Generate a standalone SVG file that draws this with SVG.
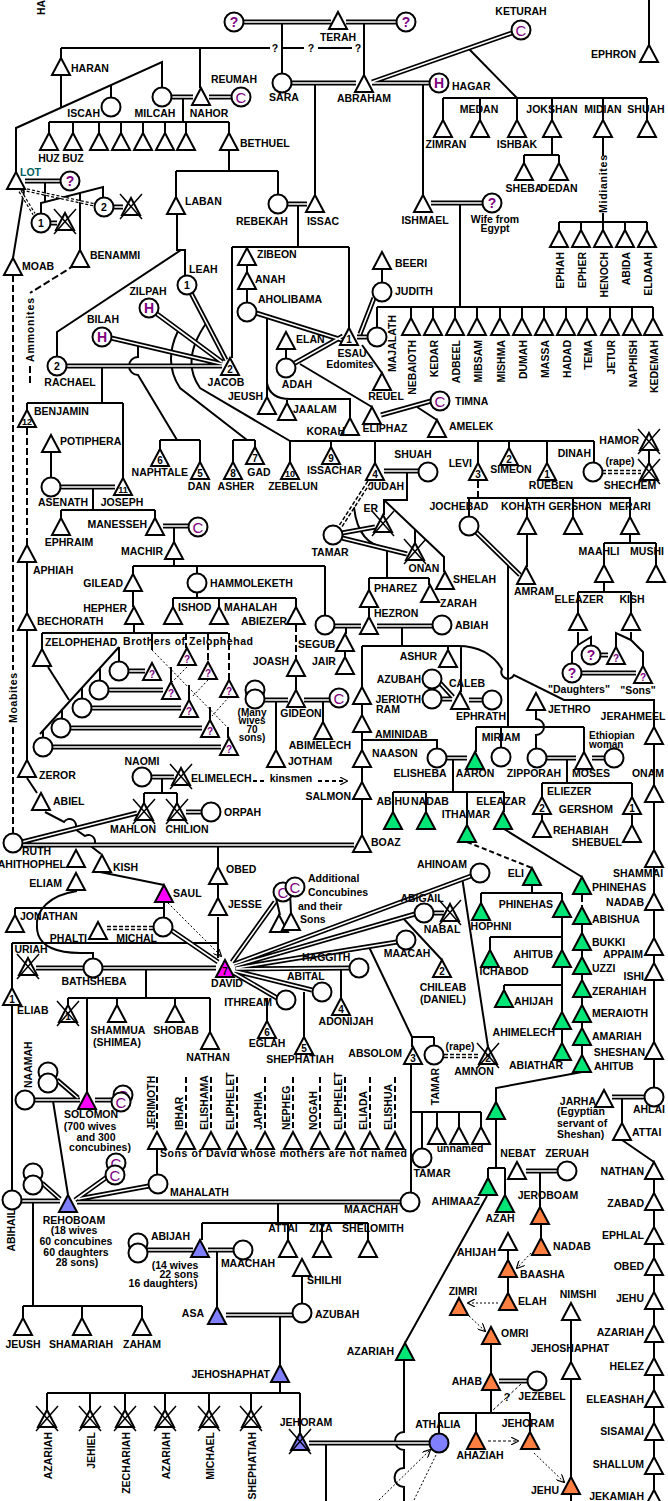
<svg xmlns="http://www.w3.org/2000/svg" width="668" height="1501" viewBox="0 0 668 1501">
<style>
text{font-family:"Liberation Sans",Arial,Helvetica,sans-serif;font-weight:bold;font-size:10.5px;fill:#000}
.m{text-anchor:middle}.e{text-anchor:end}
.n{font-size:10px;text-anchor:middle}
.s{font-size:10px}
.pc{fill:#800080;text-anchor:middle;font-size:15px;font-weight:normal}
.pq{fill:#800080;text-anchor:middle;font-size:14px}
.pt{fill:#800080;text-anchor:middle;font-size:10px}
.lot{fill:#006060}
.t{fill:#fff;stroke:#000;stroke-width:2}
.g{fill:#00e676}.mg{fill:#ff00ff}.b{fill:#8080ff}.o{fill:#ff7f40}
circle{fill:#fff;stroke:#000;stroke-width:2}
circle.b{fill:#8080ff}
.x{stroke:#000;stroke-width:1.5;fill:none}
.ln{fill:none;stroke:#000;stroke-width:2}
.ds{fill:none;stroke:#000;stroke-width:2;stroke-dasharray:7 3}
.dt{fill:none;stroke:#000;stroke-width:1;stroke-dasharray:2 2}
</style>
<defs>
<path id="t" d="M0,0L9,17L-9,17Z"/>
<marker id="ah" viewBox="0 0 10 10" refX="9" refY="5" markerWidth="8" markerHeight="8" orient="auto" markerUnits="userSpaceOnUse"><path d="M0,0L10,5L0,10" fill="none" stroke="#000" stroke-width="1.5"/></marker>
<g id="dbl">
<path d="M243,22H331M346,22H397M291,83H356M372,83H430M372,82L512,33M171,97H193M209,97H232M287,204H307M431,203H483M25,181H61M50,223H57M113,207H123"/>
<path d="M360,334L374,298M357,337H368M256,313L342,340M295,363L343,336M191,293L226,360M157,314L222,362M111,338L222,364M66,366H222M381,415L431,401M384,471H419"/>
<path d="M342,533L375,527M342,538L407,554M476,532L520,575M60,487H115M163,526H189M334,626H361M377,626H433M263,700H288M304,700H330"/>
<path d="M128,671H145M108,690H163M91,708H181M70,728H202M52,747H221M600,655H608M581,673H636M440,683L453,697M441,699H452M469,700H483"/>
<path d="M446,758H467M546,758H576M592,758H605M151,777H174M186,812H202M22,842L137,813M22,845H354M36,968H84M102,968H216M171,930L218,962"/>
<path d="M232,962L275,902M234,964L471,876M235,966L415,914M236,968L397,942M236,969L350,968M235,971L312,990M234,973L277,998M433,913H444"/>
<path d="M34,1100H80M57,1080L78,1098M95,1100H115M21,1201H60M42,1183L60,1199M75,1200L107,1177M78,1199L149,1186M77,1202H401"/>
<path d="M147,1250H193M208,1250H234M226,1315H293M309,1443H430M526,1171H558M612,1097H645M499,1381H528"/>
</g>
<g id="ddb">
<path d="M602,472H641M369,482L340,527M444,1056H480M107,928H153"/>
</g>
<g id="lotd">
<path d="M22,189L95,205M20,191L34,214"/>
</g>
</defs>
<rect width="668" height="1501" fill="#fff"/>

<g id="connectors">
<g class="ln">
<path d="M61,48H270M282,48H304M318,48H352M61,48V58M200,48V88M282,23V74M364,23V75M61,76V108M16,172V128L162,62V88M111,85V98"/>
<path d="M183,98V122M49,122H229M49,122V133M73,122V133M99,122V133M121,122V133M143,122V133M165,122V133M186,122V133M229,122V133"/>
<path d="M229,150V171M176,171H278M176,171V197M278,171V195M315,84V195M298,205V247M232,247H349M232,247V358M349,247V328M423,84V195"/>
<path d="M177,214V250H185V276M181,250L57,332V356"/>
<path d="M469,49L517,98M443,98H647M443,98V120M480,98V120M517,98V120M552,98V120M603,98V120M647,98V120M552,137V155M524,155H559M524,155V163M559,155V163"/>
<path d="M603,137V156M603,213V222M559,222H647M559,222V230M581,222V230M603,222V230M625,222V230M647,222V230M649,0V45"/>
<path d="M460,204V307M377,307H653M377,307V328M411,307V318M433,307V318M455,307V318M477,307V318M500,307V318M522,307V318M544,307V318M566,307V318M587,307V318M610,307V318M632,307V318M653,307V318"/>
<path d="M382,268V283M362,345L382,373M300,364L372,407M286,348V358M247,265V272M247,289V302M267,316V397M267,383Q270,399 290,399H350V418M287,399V403M417,407L437,420"/>
<path d="M290,441H594M290,441V462M331,441V447M375,441V463M478,441V463M509,441V448M547,441V463M594,441V462M649,451V463"/>
<path d="M207,322Q180,360 200,388L290,441M178,331Q163,362 180,388L247,440M233,440H255M233,440V462M255,440V447M138,344V357A9,9 0 0 0 138,375L177,440M160,440H200M160,440V449M200,440V462"/>
<path d="M102,366V403M27,403H123M27,403V410M123,403V478M51,452V478M93,487V510M61,510H155M61,510V518M155,510V518"/>
<path d="M174,526V542M174,560V566M133,566H325M133,566V574M197,566V574M325,566V616M133,592V607M197,592V598M173,598H296M173,598V607M219,598V607M296,598V607M296,677V690"/>
<path d="M134,624V633M42,633H228M42,633V649M152,633V650M48,667L69,700M119,647L40,734M119,647V662M100,668V681M82,688V699M62,710V719M43,731V738M171,667V682M189,685V700M210,707V720M228,727V738"/>
<path d="M276,700V750M323,700V722M346,627V634M345,652V657M369,608V617M354,507Q358,545 387,548V578M369,578H429M369,578V590M429,578V585"/>
<path d="M407,471V500H384V515M384,500L444,557V572M415,529V543M467,498H631M469,498V517M527,498V517M573,498V517M630,498V517M527,535V567"/>
<path d="M508,564V727M476,727H584M476,727V752M501,727V748M584,727V752M630,535V543M604,543H656M604,543V565M656,543V565M604,583V592M578,592H631M578,592V613M631,592V613"/>
<path d="M578,632V645L572,652V663M578,645L591,637V645M631,632V640L643,652V667M631,640L616,633V647"/>
<path d="M402,627V646M362,646H458Q488,646 502,669A6,6 0 0 0 514,675L564,700H654V727M362,646V687M448,646V650M461,646V692"/>
<path d="M362,705V715M362,733V750M362,740H437V748M362,765V782M362,800V835M453,758V792M393,792H504M393,792V812M426,792V812M467,792V825M504,792V812"/>
<path d="M567,758V783M542,783H632M542,783V797M632,783V797M542,813V820M632,813V825M536,711V719A8,8 0 0 1 536,735V749"/>
<path d="M654,745V1088M654,1180V1501M622,1097V1123M622,1140L654,1162"/>
<path d="M504,829L582,877M582,925V1055M582,1072L496,1088V1102M496,1118V1168M488,1168H505M488,1168V1178M505,1168V1195M487,1196L405,1343M404,1360V1432A9,9 0 0 0 404,1450V1468A9,9 0 0 0 404,1487V1501"/>
<path d="M532,886V893M481,893H562M481,893V903M562,893V900M562,917V1012M490,937H562M490,937V950M504,985H562M504,985V990M562,1030V1043"/>
<path d="M540,1171V1207M541,1225V1238M508,1251V1260M508,1277V1293M491,1344V1373M491,1390V1413M439,1413H530M439,1413V1433M476,1413V1432M530,1413V1432M571,1320V1362M571,1378V1477M571,1493V1501M326,1443V1501"/>
<path d="M278,1201V1223M202,1223H368M202,1223V1240M288,1223V1240M322,1223V1240M368,1223V1240M302,1276V1304M217,1250V1307M280,1316V1365M280,1382V1393M47,1393H300M47,1393V1410M90,1393V1410M125,1393V1410M165,1393V1410M209,1393V1410M251,1393V1410M300,1393V1433"/>
<path d="M33,1201V1306M23,1306H142M23,1306V1318M82,1306V1318M142,1306V1318M53,1101L68,1195M157,1148V1175"/>
<path d="M411,1063V1192M411,1112H481M422,1112V1149M437,1112V1127M459,1112V1127M481,1112V1127M412,1037H434M412,1037V1047M434,1037V1046M369,947L412,1037"/>
<path d="M462,877L488,1047M402,917L442,960M341,968V998M304,992V1037M267,998V1021M276,898L280,915M290,893L291,913"/>
<path d="M164,902V918M15,908H164M15,908V915M100,872L164,885M45,812L64,822A5,5 0 0 1 75,829L85,836A5,5 0 0 1 92,847L101,854M27,778L37,793M27,563V613M27,630V760"/>
<path d="M45,181V203M41,213V203L103,187V197M80,193V250M24,191L13,258M162,777V793M144,793H177M144,793V803M177,793V803"/>
<path d="M218,845V867M218,885V898M218,917V958M12,943H218M12,943V988M12,1006V1190M146,968V998M68,998H210M68,998V1005M87,998V1092M117,998V1005M175,998V1005M210,998V1032"/>
<path d="M77,891C50,895 35,910 37,928C38,948 60,953 80,953H93V959"/>
</g>
<g class="ds">
<path d="M296,625V659M27,428V545M13,275V670M13,727V833M75,265L30,293M30,366V383M478,481V498M186,633V648M208,633V662M229,633V680M582,895V907"/>
<path d="M467,842L532,868" stroke-dasharray="5 3"/>
<path d="M253,781H265M318,781H347" stroke-dasharray="4 3" marker-end="url(#ah)"/>
<path d="M157,1077V1130M186,1077V1130M211,1077V1130M237,1077V1130M265,1077V1130M293,1077V1130M320,1077V1130M345,1077V1130M370,1077V1130M395,1077V1130" stroke-dasharray="6 3"/>
<path d="M488,1441H518" stroke-width="1" stroke-dasharray="3 2" marker-end="url(#ah)"/>
<path d="M521,1384L492,1411" stroke-width="1" stroke-dasharray="3 2"/>
</g>
<g class="dt">
<path d="M152,650L230,730M187,667L171,683M208,680L192,697M229,697L212,716"/>
<path d="M168,903L221,956" marker-end="url(#ah)"/>
<path d="M498,1303L468,1303" marker-end="url(#ah)"/>
<path d="M531,1253L517,1268" marker-end="url(#ah)"/>
<path d="M469,1316L485,1331" marker-end="url(#ah)"/>
<path d="M534,1453L564,1482" marker-end="url(#ah)"/>
<path d="M379,1500L430,1450" marker-end="url(#ah)"/>
<path d="M414,1500L437,1453"/>
</g>
<use href="#dbl" fill="none" stroke="#000" stroke-width="5"/>
<use href="#dbl" fill="none" stroke="#fff" stroke-width="1.6"/>
<use href="#ddb" fill="none" stroke="#000" stroke-width="4.5" stroke-dasharray="4 2"/>
<use href="#ddb" fill="none" stroke="#fff" stroke-width="1.5"/>
<use href="#lotd" fill="none" stroke="#000" stroke-width="3.5" stroke-dasharray="3 2"/>
<use href="#lotd" fill="none" stroke="#fff" stroke-width="1.2"/>
<g id="connector-labels">
<text x="275" y="52" class="m">?</text><text x="311" y="52" class="m">?</text><text x="358" y="52" class="m">?</text>
<text transform="translate(607,184) rotate(-90)" class="m" textLength="58">Midianites</text>
<text transform="translate(17,698) rotate(-90)" class="m" textLength="50">Moabites</text>
<text transform="translate(34,330) rotate(-90)" class="m" textLength="64">Ammonites</text>
<text x="620" y="465" class="m">(rape)</text>
<text x="460" y="1050" class="m">(rape)</text>
<text x="291" y="782" class="m">kinsmen</text>
<text x="507" y="1401" class="m">?</text>
<text transform="translate(45,15) rotate(-90)">HA</text>
</g>
</g>

<g id="nodes">
<g id="terah"><use href="#t" class="t" x="338" y="12"/><text x="338" y="41" class="m">TERAH</text></g>
<g id="terah-wife-a"><circle cx="234" cy="22" r="9.5"/><text x="234" y="27" class="pq">?</text></g>
<g id="terah-wife-b"><circle cx="406" cy="22" r="9.5"/><text x="406" y="27" class="pq">?</text></g>
<g id="haran"><use href="#t" class="t" x="61" y="58"/><text x="71" y="72">HARAN</text></g>
<g id="iscah"><circle cx="111" cy="107" r="9.5"/><text x="100" y="117" class="e">ISCAH</text></g>
<g id="milcah"><circle cx="162" cy="97" r="9.5"/><text x="155" y="117" class="m">MILCAH</text></g>
<g id="nahor"><use href="#t" class="t" x="201" y="88"/><text x="209" y="117" class="m">NAHOR</text></g>
<g id="reumah"><circle cx="241" cy="97" r="9.5"/><text x="241" y="102.5" class="pc">C</text><text x="234" y="83" class="m">REUMAH</text></g>
<g id="sara"><circle cx="282" cy="83" r="9.5"/><text x="284" y="101" class="m">SARA</text></g>
<g id="abraham"><use href="#t" class="t" x="364" y="75"/><text x="364" y="102" class="m">ABRAHAM</text></g>
<g id="hagar"><circle cx="439" cy="83" r="9.5"/><text x="439" y="88" class="pq">H</text><text x="452" y="90">HAGAR</text></g>
<g id="keturah"><circle cx="521" cy="30" r="9.5"/><text x="521" y="35.5" class="pc">C</text><text x="521" y="15" class="m">KETURAH</text></g>
<g id="ephron"><use href="#t" class="t" x="649" y="45"/><text x="636" y="58" class="e">EPHRON</text></g>
<g id="huz"><use href="#t" class="t" x="49" y="133"/><text x="49" y="162" class="m">HUZ</text></g>
<g id="buz"><use href="#t" class="t" x="73" y="133"/><text x="73" y="162" class="m">BUZ</text></g>
<g id="nahor-son-3"><use href="#t" class="t" x="99" y="133"/></g>
<g id="nahor-son-4"><use href="#t" class="t" x="121" y="133"/></g>
<g id="nahor-son-5"><use href="#t" class="t" x="143" y="133"/></g>
<g id="nahor-son-6"><use href="#t" class="t" x="165" y="133"/></g>
<g id="nahor-son-7"><use href="#t" class="t" x="186" y="133"/></g>
<g id="bethuel"><use href="#t" class="t" x="229" y="133"/><text x="240" y="147">BETHUEL</text></g>
<g id="laban"><use href="#t" class="t" x="176" y="197"/><text x="185" y="205">LABAN</text></g>
<g id="rebekah"><circle cx="278" cy="204" r="9.5"/><text x="262" y="225" class="m">REBEKAH</text></g>
<g id="isaac"><use href="#t" class="t" x="315" y="195"/><text x="323" y="225" class="m">ISSAC</text></g>
<g id="ishmael"><use href="#t" class="t" x="423" y="195"/><text x="425" y="224" class="m">ISHMAEL</text></g>
<g id="ishmael-wife"><circle cx="492" cy="203" r="9.5"/><text x="492" y="208" class="pq">?</text><text x="495" y="223" class="m">Wife from</text><text x="495" y="232" class="m">Egypt</text></g>
<g id="zimran"><use href="#t" class="t" x="443" y="120"/><text x="446" y="148" class="m">ZIMRAN</text></g>
<g id="medan"><use href="#t" class="t" x="480" y="120"/><text x="479" y="113" class="m">MEDAN</text></g>
<g id="ishbak"><use href="#t" class="t" x="517" y="120"/><text x="517" y="148" class="m">ISHBAK</text></g>
<g id="jokshan"><use href="#t" class="t" x="552" y="120"/><text x="552" y="113" class="m">JOKSHAN</text></g>
<g id="midian"><use href="#t" class="t" x="603" y="120"/><text x="603" y="113" class="m">MIDIAN</text></g>
<g id="shuah-k"><use href="#t" class="t" x="647" y="120"/><text x="646" y="113" class="m">SHUAH</text></g>
<g id="sheba"><use href="#t" class="t" x="524" y="163"/><text x="524" y="192" class="m">SHEBA</text></g>
<g id="dedan"><use href="#t" class="t" x="559" y="163"/><text x="559" y="192" class="m">DEDAN</text></g>
<g id="ephah"><use href="#t" class="t" x="559" y="230"/><text transform="translate(564,252) rotate(-90)" class="e">EPHAH</text></g>
<g id="epher"><use href="#t" class="t" x="581" y="230"/><text transform="translate(586,252) rotate(-90)" class="e">EPHER</text></g>
<g id="henoch"><use href="#t" class="t" x="603" y="230"/><text transform="translate(608,252) rotate(-90)" class="e">HENOCH</text></g>
<g id="abida"><use href="#t" class="t" x="625" y="230"/><text transform="translate(630,252) rotate(-90)" class="e">ABIDA</text></g>
<g id="eldaah"><use href="#t" class="t" x="647" y="230"/><text transform="translate(652,252) rotate(-90)" class="e">ELDAAH</text></g>
<g id="lot"><use href="#t" class="t" x="16" y="172"/><text x="20" y="176" class="lot">LOT</text></g>
<g id="lot-wife"><circle cx="70" cy="181" r="9.5"/><text x="70" y="186" class="pq">?</text></g>
<g id="lot-daughter-1"><circle cx="41" cy="223" r="9.5"/><text x="41" y="227" class="m">1</text></g>
<g id="lot-daughter-1-husband"><use href="#t" class="t" x="65" y="213"/><path class="x" d="M54,209L76,234M76,209L54,234"/></g>
<g id="lot-daughter-2"><circle cx="104" cy="207" r="9.5"/><text x="104" y="211" class="m">2</text></g>
<g id="lot-daughter-2-husband"><use href="#t" class="t" x="131" y="198"/><path class="x" d="M120,194L142,219M142,194L120,219"/></g>
<g id="moab"><use href="#t" class="t" x="13" y="258"/><text x="22" y="270">MOAB</text></g>
<g id="benammi"><use href="#t" class="t" x="80" y="250"/><text x="90" y="259">BENAMMI</text></g>

<g id="zibeon"><use href="#t" class="t" x="247" y="248"/><text x="257" y="258">ZIBEON</text></g>
<g id="anah"><use href="#t" class="t" x="247" y="272"/><text x="255" y="283">ANAH</text></g>
<g id="aholibama"><circle cx="247" cy="312" r="9.5"/><text x="258" y="303">AHOLIBAMA</text></g>
<g id="leah"><circle cx="187" cy="285" r="9.5"/><text x="187" y="289" class="m">1</text><text x="189" y="273">LEAH</text></g>
<g id="zilpah"><circle cx="149" cy="308" r="9.5"/><text x="149" y="313" class="pq">H</text><text x="148" y="295" class="m">ZILPAH</text></g>
<g id="bilah"><circle cx="102" cy="337" r="9.5"/><text x="102" y="342" class="pq">H</text><text x="103" y="323" class="m">BILAH</text></g>
<g id="rachael"><circle cx="57" cy="366" r="9.5"/><text x="57" y="370" class="m">2</text><text x="70" y="386" class="m">RACHAEL</text></g>
<g id="jacob"><use href="#t" class="t" x="230" y="358"/><text x="230" y="373" class="n">2</text><text x="226" y="386" class="m">JACOB</text></g>
<g id="esau"><use href="#t" class="t" x="349" y="328"/><text x="349" y="343" class="n">1</text><text x="352" y="357" class="m">ESAU</text><text x="350" y="368" class="m">Edomites</text></g>
<g id="beeri"><use href="#t" class="t" x="382" y="252"/><text x="395" y="267">BEERI</text></g>
<g id="judith"><circle cx="382" cy="292" r="9.5"/><text x="395" y="295">JUDITH</text></g>
<g id="majalath"><circle cx="377" cy="337" r="9.5"/><text transform="translate(396,315) rotate(-90)" class="e">MAJALATH</text></g>
<g id="nebaioth"><use href="#t" class="t" x="411" y="318"/><text transform="translate(416,340) rotate(-90)" class="e">NEBAIOTH</text></g>
<g id="kedar"><use href="#t" class="t" x="433" y="318"/><text transform="translate(438,340) rotate(-90)" class="e">KEDAR</text></g>
<g id="adbeel"><use href="#t" class="t" x="455" y="318"/><text transform="translate(460,340) rotate(-90)" class="e">ADBEEL</text></g>
<g id="mibsam"><use href="#t" class="t" x="477" y="318"/><text transform="translate(482,340) rotate(-90)" class="e">MIBSAM</text></g>
<g id="mishma"><use href="#t" class="t" x="500" y="318"/><text transform="translate(505,340) rotate(-90)" class="e">MISHMA</text></g>
<g id="dumah"><use href="#t" class="t" x="522" y="318"/><text transform="translate(527,340) rotate(-90)" class="e">DUMAH</text></g>
<g id="massa"><use href="#t" class="t" x="544" y="318"/><text transform="translate(549,340) rotate(-90)" class="e">MASSA</text></g>
<g id="hadad"><use href="#t" class="t" x="566" y="318"/><text transform="translate(571,340) rotate(-90)" class="e">HADAD</text></g>
<g id="tema"><use href="#t" class="t" x="587" y="318"/><text transform="translate(592,340) rotate(-90)" class="e">TEMA</text></g>
<g id="jetur"><use href="#t" class="t" x="610" y="318"/><text transform="translate(615,340) rotate(-90)" class="e">JETUR</text></g>
<g id="naphish"><use href="#t" class="t" x="632" y="318"/><text transform="translate(637,340) rotate(-90)" class="e">NAPHISH</text></g>
<g id="kedemah"><use href="#t" class="t" x="653" y="318"/><text transform="translate(658,340) rotate(-90)" class="e">KEDEMAH</text></g>
<g id="elan"><use href="#t" class="t" x="286" y="332"/><text x="296" y="343">ELAN</text></g>
<g id="adah"><circle cx="286" cy="368" r="9.5"/><text x="297" y="388" class="m">ADAH</text></g>
<g id="jeush-e"><use href="#t" class="t" x="267" y="397"/><text x="263" y="400" class="e">JEUSH</text></g>
<g id="jaalam"><use href="#t" class="t" x="287" y="403"/><text x="293" y="413">JAALAM</text></g>
<g id="korah"><use href="#t" class="t" x="350" y="418"/><text x="345" y="435" class="e">KORAH</text></g>
<g id="reuel"><use href="#t" class="t" x="382" y="373"/><text x="386" y="400" class="m">REUEL</text></g>
<g id="eliphaz"><use href="#t" class="t" x="372" y="407"/><text x="385" y="432" class="m">ELIPHAZ</text></g>
<g id="timna"><circle cx="440" cy="401" r="9.5"/><text x="440" y="406.5" class="pc">C</text><text x="455" y="405">TIMNA</text></g>
<g id="amelek"><use href="#t" class="t" x="437" y="420"/><text x="449" y="430">AMELEK</text></g>
<g id="naphtale"><use href="#t" class="t" x="160" y="449"/><text x="160" y="464" class="n">6</text><text x="188" y="476" class="e">NAPHTALE</text></g>
<g id="dan"><use href="#t" class="t" x="200" y="462"/><text x="200" y="477" class="n">5</text><text x="199" y="490" class="m">DAN</text></g>
<g id="asher"><use href="#t" class="t" x="233" y="462"/><text x="233" y="477" class="n">8</text><text x="236" y="490" class="m">ASHER</text></g>
<g id="gad"><use href="#t" class="t" x="255" y="447"/><text x="255" y="462" class="n">7</text><text x="259" y="476" class="m">GAD</text></g>
<g id="zebelun"><use href="#t" class="t" x="290" y="462"/><text x="290" y="477" class="n" style="font-size:9px">10</text><text x="293" y="490" class="m">ZEBELUN</text></g>
<g id="issachar"><use href="#t" class="t" x="331" y="447"/><text x="331" y="462" class="n">9</text><text x="307" y="474">ISSACHAR</text></g>
<g id="judah"><use href="#t" class="t" x="375" y="463"/><text x="375" y="478" class="n">4</text><text x="386" y="490" class="m">JUDAH</text></g>
<g id="shuah"><circle cx="428" cy="472" r="9.5"/><text x="413" y="458" class="m">SHUAH</text></g>
<g id="levi"><use href="#t" class="t" x="478" y="463"/><text x="478" y="478" class="n">3</text><text x="472" y="467" class="e">LEVI</text></g>
<g id="simeon"><use href="#t" class="t" x="509" y="448"/><text x="509" y="463" class="n">2</text><text x="511" y="473" class="m">SIMEON</text></g>
<g id="rueben"><use href="#t" class="t" x="547" y="463"/><text x="547" y="478" class="n">1</text><text x="551" y="489" class="m">RUEBEN</text></g>
<g id="dinah"><circle cx="593" cy="472" r="9.5"/><text x="591" y="457" class="e">DINAH</text></g>
<g id="hamor"><use href="#t" class="t" x="649" y="433"/><path class="x" d="M638,429L660,454M660,429L638,454"/><text x="639" y="444" class="e">HAMOR</text></g>
<g id="shechem"><use href="#t" class="t" x="649" y="463"/><path class="x" d="M638,459L660,484M660,459L638,484"/><text x="630" y="489" class="m">SHECHEM</text></g>

<g id="benjamin"><use href="#t" class="t" x="27" y="410"/><text x="27" y="425" class="n" style="font-size:9px">12</text><text x="34" y="415">BENJAMIN</text></g>
<g id="potiphera"><use href="#t" class="t" x="51" y="435"/><text x="60" y="445">POTIPHERA</text></g>
<g id="asenath"><circle cx="51" cy="487" r="9.5"/><text x="63" y="506" class="m">ASENATH</text></g>
<g id="joseph"><use href="#t" class="t" x="123" y="478"/><text x="123" y="493" class="n" style="font-size:9px">11</text><text x="122" y="506" class="m">JOSEPH</text></g>
<g id="ephraim"><use href="#t" class="t" x="61" y="518"/><text x="69" y="546" class="m">EPHRAIM</text></g>
<g id="manesseh"><use href="#t" class="t" x="155" y="518"/><text x="147" y="528" class="e">MANESSEH</text></g>
<g id="manesseh-concubine"><circle cx="198" cy="527" r="9.5"/><text x="198" y="532.5" class="pc">C</text></g>
<g id="machir"><use href="#t" class="t" x="174" y="542"/><text x="163" y="555" class="e">MACHIR</text></g>
<g id="aphiah"><use href="#t" class="t" x="27" y="545"/><text x="33" y="574">APHIAH</text></g>
<g id="bechorath"><use href="#t" class="t" x="27" y="613"/><text x="37" y="625">BECHORATH</text></g>
<g id="gilead"><use href="#t" class="t" x="133" y="574"/><text x="123" y="587" class="e">GILEAD</text></g>
<g id="hammoleketh"><circle cx="197" cy="583" r="9.5"/><text x="210" y="587">HAMMOLEKETH</text></g>
<g id="hepher"><use href="#t" class="t" x="134" y="607"/><text x="127" y="612" class="e">HEPHER</text></g>
<g id="ishod"><use href="#t" class="t" x="173" y="607"/><text x="178" y="611">ISHOD</text></g>
<g id="mahalah"><use href="#t" class="t" x="219" y="607"/><text x="224" y="611">MAHALAH</text></g>
<g id="abiezer"><use href="#t" class="t" x="296" y="607"/><text x="287" y="625" class="e">ABIEZER</text></g>
<g id="joash"><use href="#t" class="t" x="296" y="659"/><text x="289" y="665" class="e">JOASH</text></g>
<g id="gideon"><use href="#t" class="t" x="296" y="690"/><text x="301" y="717" class="m">GIDEON</text></g>
<g id="gideon-wives"><circle cx="255" cy="690" r="9.5"/><circle cx="255" cy="699" r="9.5"/><text x="252" y="716" class="m s">(Many</text><text x="252" y="724" class="m s">wives</text><text x="252" y="733" class="m s">70</text><text x="252" y="741" class="m s">sons)</text></g>
<g id="gideon-concubine"><circle cx="339" cy="698" r="9.5"/><text x="339" y="703.5" class="pc">C</text></g>
<g id="abimelech"><use href="#t" class="t" x="323" y="722"/><text x="320" y="749" class="m">ABIMELECH</text></g>
<g id="jotham"><use href="#t" class="t" x="276" y="750"/><text x="288" y="765">JOTHAM</text></g>
<g id="zelophehad"><use href="#t" class="t" x="42" y="649"/><text x="45" y="646">ZELOPHEHAD</text><text x="123" y="645" textLength="130">Brothers of Zelophehad</text></g>
<g id="brother-1"><use href="#t" class="t" x="187" y="648"/><text x="187" y="663" class="pt">?</text></g>
<g id="brother-2"><use href="#t" class="t" x="208" y="662"/><text x="208" y="677" class="pt">?</text></g>
<g id="brother-3"><use href="#t" class="t" x="229" y="680"/><text x="229" y="695" class="pt">?</text></g>
<g id="daughter-1"><circle cx="119" cy="671" r="9.5"/></g>
<g id="daughter-2"><circle cx="99" cy="690" r="9.5"/></g>
<g id="daughter-3"><circle cx="82" cy="708" r="9.5"/></g>
<g id="daughter-4"><circle cx="61" cy="728" r="9.5"/></g>
<g id="daughter-5"><circle cx="43" cy="747" r="9.5"/></g>
<g id="husband-1"><use href="#t" class="t" x="152" y="663"/><text x="152" y="678" class="pt">?</text></g>
<g id="husband-2"><use href="#t" class="t" x="171" y="682"/><text x="171" y="697" class="pt">?</text></g>
<g id="husband-3"><use href="#t" class="t" x="189" y="700"/><text x="189" y="715" class="pt">?</text></g>
<g id="husband-4"><use href="#t" class="t" x="210" y="720"/><text x="210" y="735" class="pt">?</text></g>
<g id="husband-5"><use href="#t" class="t" x="229" y="738"/><text x="229" y="753" class="pt">?</text></g>
<g id="segub"><use href="#t" class="t" x="345" y="634"/><text x="298" y="648">SEGUB</text></g>
<g id="jair"><use href="#t" class="t" x="345" y="657"/><text x="312" y="665">JAIR</text></g>
<g id="hezron-wife"><circle cx="325" cy="625" r="9.5"/></g>
<g id="hezron"><use href="#t" class="t" x="369" y="617"/><text x="374" y="617">HEZRON</text></g>
<g id="abiah"><circle cx="442" cy="625" r="9.5"/><text x="455" y="629">ABIAH</text></g>
<g id="pharez"><use href="#t" class="t" x="369" y="590"/><text x="374" y="592">PHAREZ</text></g>
<g id="zarah"><use href="#t" class="t" x="430" y="585"/><text x="440" y="607">ZARAH</text></g>
<g id="tamar"><circle cx="333" cy="535" r="9.5"/><text x="330" y="556" class="m">TAMAR</text></g>
<g id="er"><use href="#t" class="t" x="383" y="515"/><path class="x" d="M372,511L394,536M394,511L372,536"/><text x="378" y="512" class="e">ER</text></g>
<g id="onan"><use href="#t" class="t" x="415" y="543"/><path class="x" d="M404,539L426,564M426,539L404,564"/><text x="424" y="572" class="m">ONAN</text></g>
<g id="shelah"><use href="#t" class="t" x="445" y="572"/><text x="453" y="583">SHELAH</text></g>
<g id="jochebad"><circle cx="469" cy="526" r="9.5"/><text x="459" y="510" class="m">JOCHEBAD</text></g>
<g id="kohath"><use href="#t" class="t" x="527" y="517"/><text x="523" y="510" class="m">KOHATH</text></g>
<g id="gershon"><use href="#t" class="t" x="573" y="517"/><text x="575" y="510" class="m">GERSHON</text></g>
<g id="merari"><use href="#t" class="t" x="630" y="517"/><text x="630" y="510" class="m">MERARI</text></g>
<g id="amram"><use href="#t" class="t" x="526" y="567"/><text x="534" y="595" class="m">AMRAM</text></g>
<g id="maahli"><use href="#t" class="t" x="604" y="565"/><text x="599" y="555" class="m">MAAHLI</text></g>
<g id="mushi"><use href="#t" class="t" x="656" y="565"/><text x="647" y="555" class="m">MUSHI</text></g>
<g id="eleazer"><use href="#t" class="t" x="578" y="613"/><text x="579" y="603" class="m">ELEAZER</text></g>
<g id="kish-l"><use href="#t" class="t" x="631" y="613"/><text x="632" y="603" class="m">KISH</text></g>
<g id="daughters"><circle cx="591" cy="655" r="9.5"/><text x="591" y="660" class="pq">?</text><circle cx="572" cy="673" r="9.5"/><text x="572" y="678" class="pq">?</text><text x="579" y="693" class="m">"Daughters"</text></g>
<g id="sons"><use href="#t" class="t" x="616" y="647"/><text x="616" y="662" class="pt">?</text><use href="#t" class="t" x="643" y="666"/><text x="643" y="681" class="pt">?</text><text x="638" y="694" class="m">"Sons"</text></g>
<g id="ram"><use href="#t" class="t" x="362" y="687"/><text x="376" y="713">RAM</text></g>
<g id="ashur"><use href="#t" class="t" x="448" y="650"/><text x="437" y="660" class="e">ASHUR</text></g>
<g id="caleb"><use href="#t" class="t" x="460" y="692"/><text x="467" y="687" class="m">CALEB</text></g>
<g id="azubah-c"><circle cx="432" cy="679" r="9.5"/><text x="421" y="683" class="e">AZUBAH</text></g>
<g id="jerioth"><circle cx="432" cy="699" r="9.5"/><text x="421" y="703" class="e">JERIOTH</text></g>
<g id="ephrath"><circle cx="492" cy="700" r="9.5"/><text x="481" y="720" class="m">EPHRATH</text></g>
<g id="jethro"><use href="#t" class="t" x="536" y="693"/><text x="548" y="713">JETHRO</text></g>
<g id="jerahmeel"><use href="#t" class="t" x="654" y="727"/><text x="633" y="720" class="m">JERAHMEEL</text></g>
<g id="aminidab"><use href="#t" class="t" x="362" y="715"/><text x="375" y="738">AMINIDAB</text></g>
<g id="naason"><use href="#t" class="t" x="362" y="750"/><text x="372" y="757">NAASON</text></g>
<g id="salmon"><use href="#t" class="t" x="362" y="782"/><text x="351" y="800" class="e">SALMON</text></g>
<g id="boaz"><use href="#t" class="t" x="362" y="835"/><text x="371" y="846">BOAZ</text></g>
<g id="elisheba"><circle cx="437" cy="758" r="9.5"/><text x="420" y="777" class="m">ELISHEBA</text></g>
<g id="aaron"><use href="#t" class="t g" x="475" y="752"/><text x="475" y="777" class="m">AARON</text></g>
<g id="miriam"><circle cx="501" cy="757" r="9.5"/><text x="501" y="741" class="m">MIRIAM</text></g>
<g id="zipporah"><circle cx="537" cy="758" r="9.5"/><text x="534" y="777" class="m">ZIPPORAH</text></g>
<g id="moses"><use href="#t" class="t" x="584" y="752"/><text x="591" y="777" class="m">MOSES</text></g>
<g id="ethiopian-woman"><circle cx="614" cy="758" r="9.5"/><text x="589" y="739" class="s">Ethiopian</text><text x="589" y="748" class="s">woman</text></g>
<g id="abihu"><use href="#t" class="t g" x="393" y="812"/><text x="393" y="805" class="m">ABIHU</text></g>
<g id="nadab-a"><use href="#t" class="t g" x="426" y="812"/><text x="430" y="805" class="m">NADAB</text></g>
<g id="ithamar"><use href="#t" class="t g" x="467" y="825"/><text x="466" y="818" class="m">ITHAMAR</text></g>
<g id="eleazar"><use href="#t" class="t g" x="503" y="812"/><text x="501" y="805" class="m">ELEAZAR</text></g>
<g id="eliezer"><use href="#t" class="t" x="542" y="797"/><text x="542" y="812" class="n">2</text><text x="547" y="795">ELIEZER</text></g>
<g id="gershom"><use href="#t" class="t" x="632" y="797"/><text x="632" y="812" class="n">1</text><text x="586" y="813" class="m">GERSHOM</text></g>
<g id="rehabiah"><use href="#t" class="t" x="542" y="820"/><text x="553" y="834">REHABIAH</text></g>
<g id="shebuel"><use href="#t" class="t" x="632" y="825"/><text x="622" y="846" class="e">SHEBUEL</text></g>
<g id="onam"><use href="#t" class="t" x="654" y="785"/><text x="648" y="777" class="m">ONAM</text></g>
<g id="shammai"><use href="#t" class="t" x="654" y="850"/><text x="638" y="877" class="m">SHAMMAI</text></g>
<g id="nadab-j"><use href="#t" class="t" x="654" y="893"/><text x="644" y="906" class="e">NADAB</text></g>
<g id="appaim"><use href="#t" class="t" x="654" y="938"/><text x="643" y="958" class="e">APPAIM</text></g>
<g id="ishi"><use href="#t" class="t" x="654" y="963"/><text x="644" y="980" class="e">ISHI</text></g>
<g id="sheshan"><use href="#t" class="t" x="654" y="1042"/><text x="645" y="1056" class="e">SHESHAN</text></g>
<g id="ahlai"><circle cx="654" cy="1097" r="9.5"/><text x="649" y="1113" class="m">AHLAI</text></g>
<g id="jarha"><use href="#t" class="t" x="604" y="1090"/><text x="596" y="1105" class="e">JARHA</text><text x="557" y="1115">(Egyptian</text><text x="557" y="1127">servant of</text><text x="557" y="1138">Sheshan)</text></g>
<g id="attai-j"><use href="#t" class="t" x="622" y="1123"/><text x="632" y="1136">ATTAI</text></g>
<g id="nathan-j"><use href="#t" class="t" x="654" y="1162"/><text x="644" y="1175" class="e">NATHAN</text></g>
<g id="zabad"><use href="#t" class="t" x="654" y="1193"/><text x="644" y="1207" class="e">ZABAD</text></g>
<g id="ephlal"><use href="#t" class="t" x="654" y="1227"/><text x="644" y="1239" class="e">EPHLAL</text></g>
<g id="obed-j"><use href="#t" class="t" x="654" y="1258"/><text x="644" y="1270" class="e">OBED</text></g>
<g id="jehu-j"><use href="#t" class="t" x="654" y="1292"/><text x="644" y="1302" class="e">JEHU</text></g>
<g id="azariah-j"><use href="#t" class="t" x="654" y="1325"/><text x="644" y="1336" class="e">AZARIAH</text></g>
<g id="helez"><use href="#t" class="t" x="654" y="1358"/><text x="644" y="1370" class="e">HELEZ</text></g>
<g id="eleashah"><use href="#t" class="t" x="654" y="1390"/><text x="644" y="1403" class="e">ELEASHAH</text></g>
<g id="sisamai"><use href="#t" class="t" x="654" y="1423"/><text x="644" y="1435" class="e">SISAMAI</text></g>
<g id="shallum"><use href="#t" class="t" x="654" y="1457"/><text x="644" y="1468" class="e">SHALLUM</text></g>
<g id="jekamiah"><use href="#t" class="t" x="654" y="1490"/><text x="644" y="1500" class="e">JEKAMIAH</text></g>

<g id="phinehas"><use href="#t" class="t g" x="582" y="877"/><text x="592" y="891">PHINEHAS</text></g>
<g id="abishua"><use href="#t" class="t g" x="582" y="907"/><text x="592" y="923">ABISHUA</text></g>
<g id="bukki"><use href="#t" class="t g" x="582" y="933"/><text x="592" y="946">BUKKI</text></g>
<g id="uzzi"><use href="#t" class="t g" x="582" y="957"/><text x="592" y="972">UZZI</text></g>
<g id="zerahiah"><use href="#t" class="t g" x="582" y="980"/><text x="592" y="995">ZERAHIAH</text></g>
<g id="meraioth"><use href="#t" class="t g" x="582" y="1005"/><text x="592" y="1017">MERAIOTH</text></g>
<g id="amariah"><use href="#t" class="t g" x="582" y="1028"/><text x="592" y="1040">AMARIAH</text></g>
<g id="ahitub-b"><use href="#t" class="t g" x="582" y="1055"/><text x="594" y="1070">AHITUB</text></g>
<g id="zadok"><use href="#t" class="t g" x="496" y="1102"/></g>
<g id="ahimaaz"><use href="#t" class="t g" x="488" y="1178"/><text x="480" y="1205" class="e">AHIMAAZ</text></g>
<g id="azah"><use href="#t" class="t g" x="505" y="1195"/><text x="500" y="1222" class="m">AZAH</text></g>
<g id="azariah-p"><use href="#t" class="t g" x="405" y="1343"/><text x="394" y="1355" class="e">AZARIAH</text></g>
<g id="eli"><use href="#t" class="t g" x="532" y="868"/><text x="524" y="877" class="e">ELI</text></g>
<g id="hophni"><use href="#t" class="t g" x="481" y="903"/><text x="491" y="930" class="m">HOPHNI</text></g>
<g id="phinehas-eli"><use href="#t" class="t g" x="562" y="900"/><text x="553" y="908" class="e">PHINEHAS</text></g>
<g id="ichabod"><use href="#t" class="t g" x="490" y="950"/><text x="504" y="975" class="m">ICHABOD</text></g>
<g id="ahitub-a"><use href="#t" class="t g" x="562" y="950"/><text x="553" y="958" class="e">AHITUB</text></g>
<g id="ahijah-p"><use href="#t" class="t g" x="504" y="990"/><text x="514" y="1005">AHIJAH</text></g>
<g id="ahimelech"><use href="#t" class="t g" x="562" y="1012"/><text x="555" y="1036" class="e">AHIMELECH</text></g>
<g id="abiathar"><use href="#t" class="t g" x="562" y="1043"/><text x="536" y="1069" class="m">ABIATHAR</text></g>

<g id="nebat"><use href="#t" class="t" x="517" y="1162"/><text x="518" y="1157" class="m">NEBAT</text></g>
<g id="zeruah"><circle cx="567" cy="1171" r="9.5"/><text x="567" y="1157" class="m">ZERUAH</text></g>
<g id="jeroboam"><use href="#t" class="t o" x="540" y="1207"/><text x="548" y="1199" class="m">JEROBOAM</text></g>
<g id="nadab-i"><use href="#t" class="t o" x="541" y="1238"/><text x="553" y="1250">NADAB</text></g>
<g id="ahijah-i"><use href="#t" class="t" x="508" y="1233"/><text x="457" y="1256">AHIJAH</text></g>
<g id="baasha"><use href="#t" class="t o" x="508" y="1260"/><text x="520" y="1278">BAASHA</text></g>
<g id="elah"><use href="#t" class="t o" x="508" y="1293"/><text x="518" y="1305">ELAH</text></g>
<g id="zimri"><use href="#t" class="t o" x="459" y="1298"/><text x="463" y="1295" class="m">ZIMRI</text></g>
<g id="omri"><use href="#t" class="t o" x="491" y="1327"/><text x="501" y="1337">OMRI</text></g>
<g id="ahab"><use href="#t" class="t o" x="491" y="1373"/><text x="482" y="1385" class="e">AHAB</text></g>
<g id="jezebel"><circle cx="537" cy="1381" r="9.5"/><text x="542" y="1400" class="m">JEZEBEL</text></g>
<g id="athalia"><circle class="b" cx="439" cy="1443" r="9.5"/><text x="438" y="1428" class="m">ATHALIA</text></g>
<g id="ahaziah"><use href="#t" class="t o" x="476" y="1432"/><text x="480" y="1459" class="m">AHAZIAH</text></g>
<g id="jehoram-i"><use href="#t" class="t o" x="530" y="1432"/><text x="528" y="1427" class="m">JEHORAM</text></g>
<g id="nimshi"><use href="#t" class="t" x="571" y="1303"/><text x="578" y="1298" class="m">NIMSHI</text></g>
<g id="jehoshaphat-i"><use href="#t" class="t" x="571" y="1362"/><text x="570" y="1352" class="m">JEHOSHAPHAT</text></g>
<g id="jehu"><use href="#t" class="t o" x="571" y="1477"/><text x="559" y="1494" class="e">JEHU</text></g>

<g id="naomi"><circle cx="142" cy="777" r="9.5"/><text x="142" y="765" class="m">NAOMI</text></g>
<g id="elimelech"><use href="#t" class="t" x="181" y="768"/><path class="x" d="M170,764L192,789M192,764L170,789"/><text x="191" y="782">ELIMELECH</text></g>
<g id="mahlon"><use href="#t" class="t" x="144" y="803"/><path class="x" d="M133,799L155,824M155,799L133,824"/><text x="133" y="833" class="m">MAHLON</text></g>
<g id="chilion"><use href="#t" class="t" x="177" y="803"/><path class="x" d="M166,799L188,824M188,799L166,824"/><text x="187" y="833" class="m">CHILION</text></g>
<g id="orpah"><circle cx="211" cy="812" r="9.5"/><text x="224" y="816">ORPAH</text></g>
<g id="zeror"><use href="#t" class="t" x="27" y="760"/><text x="39" y="779">ZEROR</text></g>
<g id="abiel"><use href="#t" class="t" x="41" y="793"/><text x="53" y="805">ABIEL</text></g>
<g id="ruth"><circle cx="13" cy="843" r="9.5"/><text x="22" y="855">RUTH</text></g>
<g id="ahithophel"><use href="#t" class="t" x="76" y="850"/><text x="66" y="868" class="e">AHITHOPHEL</text></g>
<g id="eliam"><use href="#t" class="t" x="76" y="873"/><text x="62" y="887" class="e">ELIAM</text></g>
<g id="kish"><use href="#t" class="t" x="102" y="855"/><text x="113" y="871">KISH</text></g>
<g id="saul"><use href="#t" class="t mg" x="164" y="885"/><text x="173" y="897">SAUL</text></g>
<g id="obed"><use href="#t" class="t" x="218" y="867"/><text x="226" y="873">OBED</text></g>
<g id="jesse"><use href="#t" class="t" x="218" y="898"/><text x="228" y="908">JESSE</text></g>
<g id="jonathan"><use href="#t" class="t" x="15" y="915"/><text x="20" y="920">JONATHAN</text></g>
<g id="phalti"><use href="#t" class="t" x="98" y="922"/><text x="87" y="942" class="e">PHALTI</text></g>
<g id="michal"><circle cx="163" cy="927" r="9.5"/><text x="157" y="942" class="e">MICHAL</text></g>
<g id="uriah"><use href="#t" class="t" x="28" y="958"/><path class="x" d="M17,954L39,979M39,954L17,979"/><text x="31" y="953" class="m">URIAH</text></g>
<g id="bathsheba"><circle cx="93" cy="968" r="9.5"/><text x="94" y="985" class="m">BATHSHEBA</text></g>
<g id="david"><use href="#t" class="t mg" x="225" y="960"/><text x="225" y="975" class="n">7</text><text x="227" y="987" class="m">DAVID</text></g>
<g id="concubines"><circle cx="283" cy="892" r="9.5"/><text x="283" y="897.5" class="pc">C</text><circle cx="295" cy="887" r="9.5"/><text x="295" y="892.5" class="pc">C</text><use href="#t" class="t" x="279" y="915"/><use href="#t" class="t" x="291" y="913"/><text x="308" y="882">Additional</text><text x="308" y="896">Concubines</text><text x="298" y="910">and their</text><text x="300" y="923">Sons</text></g>
<g id="ahinoam"><circle cx="480" cy="873" r="9.5"/><text x="442" y="868" class="m">AHINOAM</text></g>
<g id="abigail"><circle cx="424" cy="913" r="9.5"/><text x="422" y="902" class="m">ABIGAIL</text></g>
<g id="nabal"><use href="#t" class="t" x="450" y="904"/><path class="x" d="M439,900L461,925M461,900L439,925"/><text x="442" y="933" class="m">NABAL</text></g>
<g id="maacah"><circle cx="406" cy="940" r="9.5"/><text x="407" y="957" class="m">MAACAH</text></g>
<g id="chileab"><use href="#t" class="t" x="442" y="960"/><text x="442" y="975" class="n">2</text><text x="443" y="991" class="m">CHILEAB</text><text x="443" y="1003" class="m">(DANIEL)</text></g>
<g id="haggith"><circle cx="359" cy="968" r="9.5"/><text x="302" y="961">HAGGITH</text></g>
<g id="abital"><circle cx="322" cy="992" r="9.5"/><text x="287" y="980">ABITAL</text></g>
<g id="ithream-mother"><circle cx="286" cy="1000" r="9.5"/><text x="272" y="1006" class="e">ITHREAM</text></g>
<g id="eglah"><use href="#t" class="t" x="267" y="1021"/><text x="267" y="1036" class="n">6</text><text x="267" y="1047" class="m">EGLAH</text></g>
<g id="adonijah"><use href="#t" class="t" x="341" y="998"/><text x="341" y="1013" class="n">4</text><text x="346" y="1025" class="m">ADONIJAH</text></g>
<g id="shephatiah-d"><use href="#t" class="t" x="304" y="1037"/><text x="304" y="1052" class="n">5</text><text x="300" y="1063" class="m">SHEPHATIAH</text></g>
<g id="eliab"><use href="#t" class="t" x="12" y="988"/><text x="12" y="1003" class="n">1</text><text x="17" y="1014">ELIAB</text></g>
<g id="bathsheba-son-1"><use href="#t" class="t" x="68" y="1005"/><text x="68" y="1020" class="n">1</text><path class="x" d="M57,1001L79,1026M79,1001L57,1026"/></g>
<g id="shammua"><use href="#t" class="t" x="117" y="1005"/><text x="118" y="1034" class="m">SHAMMUA</text><text x="117" y="1046" class="m">(SHIMEA)</text></g>
<g id="shobab"><use href="#t" class="t" x="175" y="1005"/><text x="176" y="1034" class="m">SHOBAB</text></g>
<g id="nathan"><use href="#t" class="t" x="210" y="1032"/><text x="208" y="1061" class="m">NATHAN</text></g>
<g id="solomon"><use href="#t" class="t mg" x="87" y="1092"/><text x="91" y="1118" class="m">SOLOMON</text><text x="90" y="1130" class="m">(700 wives</text><text x="96" y="1141" class="m">and 300</text><text x="100" y="1151" class="m">concubines)</text></g>
<g id="naamah"><circle cx="25" cy="1100" r="9.5"/><text transform="translate(32,1088) rotate(-90)">NAAMAH</text></g>
<g id="solomon-wives"><circle cx="48" cy="1072" r="9.5"/><circle cx="48" cy="1083" r="9.5"/></g>
<g id="solomon-concubines"><circle cx="123" cy="1095" r="9.5"/><text x="123" y="1100.5" class="pc">C</text><circle cx="121" cy="1102" r="9.5"/><text x="121" y="1107.5" class="pc">C</text></g>
<g id="absolom"><use href="#t" class="t" x="413" y="1047"/><text x="413" y="1062" class="n">3</text><text x="402" y="1057" class="e">ABSOLOM</text></g>
<g id="tamar-sister"><circle cx="434" cy="1055" r="9.5"/><text transform="translate(439,1068) rotate(-90)" class="e">TAMAR</text></g>
<g id="amnon"><use href="#t" class="t" x="488" y="1047"/><text x="488" y="1062" class="n">2</text><path class="x" d="M477,1043L499,1068M499,1043L477,1068"/><text x="474" y="1075" class="m">AMNON</text></g>
<g id="unnamed"><use href="#t" class="t" x="437" y="1127"/><use href="#t" class="t" x="459" y="1127"/><use href="#t" class="t" x="481" y="1127"/><text x="460" y="1152" class="m">unnamed</text></g>
<g id="tamar-daughter"><circle cx="422" cy="1158" r="9.5"/><text x="432" y="1177" class="m">TAMAR</text></g>
<g id="maachah-a"><circle cx="410" cy="1202" r="9.5"/><text x="371" y="1213" class="m">MAACHAH</text></g>
<g id="jerimoth"><use href="#t" class="t" x="157" y="1132"/><text transform="translate(155,1130) rotate(-90)">JERIMOTH</text></g>
<g id="ibhar"><use href="#t" class="t" x="186" y="1132"/><text transform="translate(183,1130) rotate(-90)">IBHAR</text></g>
<g id="elishama"><use href="#t" class="t" x="211" y="1132"/><text transform="translate(208,1130) rotate(-90)">ELISHAMA</text></g>
<g id="eliphelet-a"><use href="#t" class="t" x="237" y="1132"/><text transform="translate(234,1130) rotate(-90)">ELIPHELET</text></g>
<g id="japhia"><use href="#t" class="t" x="265" y="1132"/><text transform="translate(262,1130) rotate(-90)">JAPHIA</text></g>
<g id="nepheg"><use href="#t" class="t" x="293" y="1132"/><text transform="translate(290,1130) rotate(-90)">NEPHEG</text></g>
<g id="nogah"><use href="#t" class="t" x="320" y="1132"/><text transform="translate(317,1130) rotate(-90)">NOGAH</text></g>
<g id="eliphelet-b"><use href="#t" class="t" x="345" y="1132"/><text transform="translate(342,1130) rotate(-90)">ELIPHELET</text></g>
<g id="eliada"><use href="#t" class="t" x="370" y="1132"/><text transform="translate(367,1130) rotate(-90)">ELIADA</text></g>
<g id="elishua"><use href="#t" class="t" x="395" y="1132"/><text transform="translate(392,1130) rotate(-90)">ELISHUA</text></g>
<g id="sons-caption"><text x="160" y="1157" textLength="247">Sons of David whose mothers are not named</text></g>
<g id="mahalath"><circle cx="158" cy="1184" r="9.5"/><text x="170" y="1196">MAHALATH</text></g>
<g id="rehoboam"><use href="#t" class="t b" x="68" y="1195"/><text x="74" y="1224" class="m">REHOBOAM</text><text x="74" y="1234" class="m">(18 wives</text><text x="76" y="1245" class="m">60 concubines</text><text x="76" y="1256" class="m">60 daughters</text><text x="77" y="1266" class="m">28 sons)</text></g>
<g id="rehoboam-wives"><circle cx="33" cy="1173" r="9.5"/><circle cx="33" cy="1185" r="9.5"/></g>
<g id="rehoboam-concubines"><circle cx="116" cy="1163" r="9.5"/><text x="116" y="1168.5" class="pc">C</text><circle cx="115" cy="1175" r="9.5"/><text x="115" y="1180.5" class="pc">C</text></g>
<g id="abihail"><circle cx="12" cy="1200" r="9.5"/><text transform="translate(15,1209) rotate(-90)" class="e">ABIHAIL</text></g>
<g id="abijah"><use href="#t" class="t b" x="200" y="1240"/><text x="190" y="1240" class="e">ABIJAH</text></g>
<g id="abijah-wives"><circle cx="138" cy="1243" r="9.5"/><circle cx="138" cy="1253" r="9.5"/><text x="175" y="1269" class="m">(14 wives</text><text x="179" y="1278" class="m">22 sons</text><text x="163" y="1287" class="m">16 daughters)</text></g>
<g id="maachah-b"><circle cx="243" cy="1250" r="9.5"/><text x="248" y="1267" class="m">MAACHAH</text></g>
<g id="attai"><use href="#t" class="t" x="288" y="1240"/><text x="283" y="1232" class="m">ATTAI</text></g>
<g id="ziza"><use href="#t" class="t" x="322" y="1240"/><text x="321" y="1232" class="m">ZIZA</text></g>
<g id="shelomith"><use href="#t" class="t" x="368" y="1240"/><text x="373" y="1232" class="m">SHELOMITH</text></g>
<g id="shilhi"><use href="#t" class="t" x="302" y="1259"/><text x="307" y="1284">SHILHI</text></g>
<g id="azubah"><circle cx="302" cy="1313" r="9.5"/><text x="315" y="1318">AZUBAH</text></g>
<g id="asa"><use href="#t" class="t b" x="217" y="1307"/><text x="204" y="1317" class="e">ASA</text></g>
<g id="jehoshaphat"><use href="#t" class="t b" x="280" y="1365"/><text x="270" y="1378" class="e">JEHOSHAPHAT</text></g>
<g id="jehoram"><use href="#t" class="t b" x="300" y="1433"/><path class="x" d="M289,1429L311,1454M311,1429L289,1454"/><text x="306" y="1426" class="m">JEHORAM</text></g>
<g id="azariah-a"><use href="#t" class="t" x="47" y="1410"/><path class="x" d="M36,1406L58,1431M58,1406L36,1431"/><text transform="translate(52,1432) rotate(-90)" class="e">AZARIAH</text></g>
<g id="jehiel"><use href="#t" class="t" x="90" y="1410"/><path class="x" d="M79,1406L101,1431M101,1406L79,1431"/><text transform="translate(95,1432) rotate(-90)" class="e">JEHIEL</text></g>
<g id="zechariah"><use href="#t" class="t" x="125" y="1410"/><path class="x" d="M114,1406L136,1431M136,1406L114,1431"/><text transform="translate(130,1432) rotate(-90)" class="e">ZECHARIAH</text></g>
<g id="azariah-b"><use href="#t" class="t" x="165" y="1410"/><path class="x" d="M154,1406L176,1431M176,1406L154,1431"/><text transform="translate(170,1432) rotate(-90)" class="e">AZARIAH</text></g>
<g id="michael"><use href="#t" class="t" x="209" y="1410"/><path class="x" d="M198,1406L220,1431M220,1406L198,1431"/><text transform="translate(214,1432) rotate(-90)" class="e">MICHAEL</text></g>
<g id="shephatiah-j"><use href="#t" class="t" x="251" y="1410"/><path class="x" d="M240,1406L262,1431M262,1406L240,1431"/><text transform="translate(256,1432) rotate(-90)" class="e">SHEPHATIAH</text></g>
<g id="jeush"><use href="#t" class="t" x="23" y="1318"/><text x="23" y="1348" class="m">JEUSH</text></g>
<g id="shamariah"><use href="#t" class="t" x="82" y="1318"/><text x="81" y="1348" class="m">SHAMARIAH</text></g>
<g id="zaham"><use href="#t" class="t" x="142" y="1318"/><text x="142" y="1348" class="m">ZAHAM</text></g>
</g>
</svg>
